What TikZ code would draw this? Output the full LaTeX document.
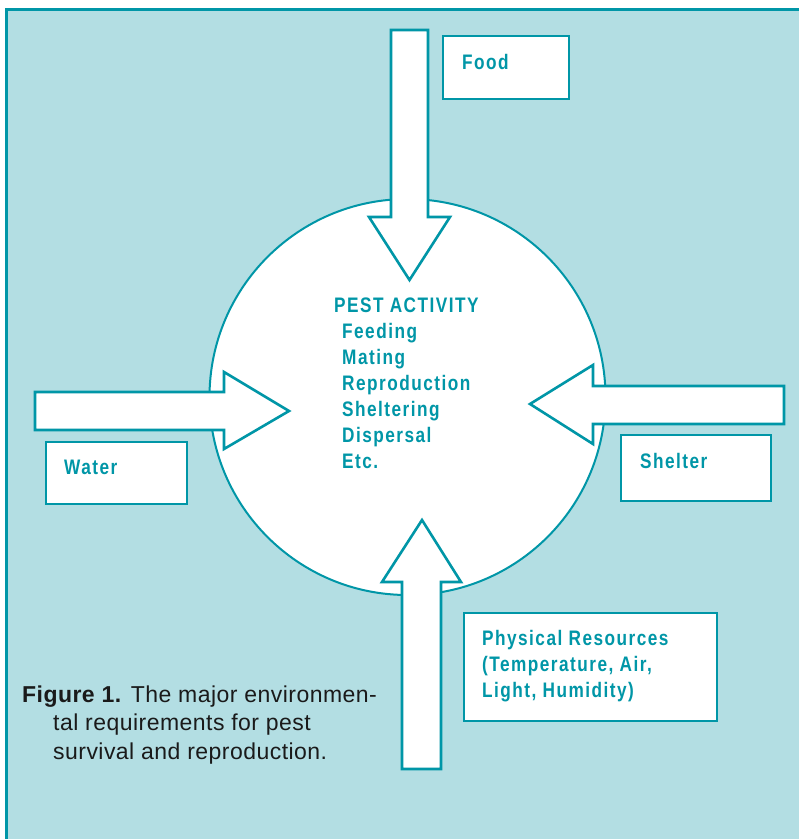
\documentclass[tikz,border=0pt]{standalone}
\usepackage{fontspec}
\setmainfont{Liberation Sans}
\newfontfamily\tagfont{Liberation Sans}[FakeStretch=0.82,LetterSpace=7]
\newfontfamily\capfont{Liberation Sans}[LetterSpace=2]
\definecolor{teal}{RGB}{0,150,167}
\definecolor{pale}{RGB}{179,222,227}
\definecolor{ink}{RGB}{26,26,26}
\tikzset{
  outline/.style={draw=teal,line width=2.6pt,fill=white,line join=miter},
  infobox/.style={draw=teal,line width=2.4pt,fill=white},
  tag/.style={anchor=base west,inner sep=0pt,text=teal,font=\tagfont\bfseries\fontsize{21}{26}\selectfont},
  caption/.style={anchor=base west,inner sep=0pt,text=ink,font=\capfont\fontsize{23}{28}\selectfont}
}
\begin{document}
\begin{tikzpicture}[x=1pt,y=-1pt]
\useasboundingbox (0,0) rectangle (799,839);
% page and panel
\fill[white] (0,0) rectangle (799,839);
\fill[pale] (6.5,9.5) rectangle (799,839);
\draw[teal,line width=2.6pt] (6.5,839) -- (6.5,9.5) -- (799,9.5);

% central circle
\draw[teal,line width=2pt,fill=white] (407.5,397) circle (198);

% block arrows pointing into the circle
\draw[outline] (391,30) -- (428,30) -- (428,217) -- (450,217) -- (409.5,280) -- (369,217) -- (391,217) -- cycle;
\draw[outline] (35,392) -- (224,392) -- (224,372) -- (289,411) -- (224,449) -- (224,430) -- (35,430) -- cycle;
\draw[outline] (784,386) -- (593,386) -- (593,365) -- (530,404) -- (593,444) -- (593,424) -- (784,424) -- cycle;
\draw[outline] (402,769) -- (402,582) -- (382,582) -- (422,520) -- (461,582) -- (441,582) -- (441,769) -- cycle;

% resource boxes
\draw[infobox] (443,36) rectangle (569,99);
\draw[infobox] (46,442) rectangle (187,504);
\draw[infobox] (621,435) rectangle (771,501);
\draw[infobox] (464,613) rectangle (717,721);

\node[tag] (food) at (462,69) {Food};
\node[tag] (water) at (64,474) {Water};
\node[tag] (shelter) at (640,468) {Shelter};
\node[tag] (phys1) at (482,645) {Physical Resources};
\node[tag] (phys2) at (482,671) {(Temperature, Air,};
\node[tag] (phys3) at (482,697) {Light, Humidity)};

% activity list inside the circle
\node[tag] (head) at (334,312) {PEST ACTIVITY};
\node[tag] (act1) at (342,338) {Feeding};
\node[tag] (act2) at (342,364) {Mating};
\node[tag] (act3) at (342,390) {Reproduction};
\node[tag] (act4) at (342,416) {Sheltering};
\node[tag] (act5) at (342,442) {Dispersal};
\node[tag] (act6) at (342,468) {Etc.};

% caption
\node[caption] (cap1) at (22,702) {\textbf{Figure 1.} The major environmen-};
\node[caption] (cap2) at (53,730.5) {tal requirements for pest};
\node[caption] (cap3) at (53,759) {survival and reproduction.};
\end{tikzpicture}
\end{document}
